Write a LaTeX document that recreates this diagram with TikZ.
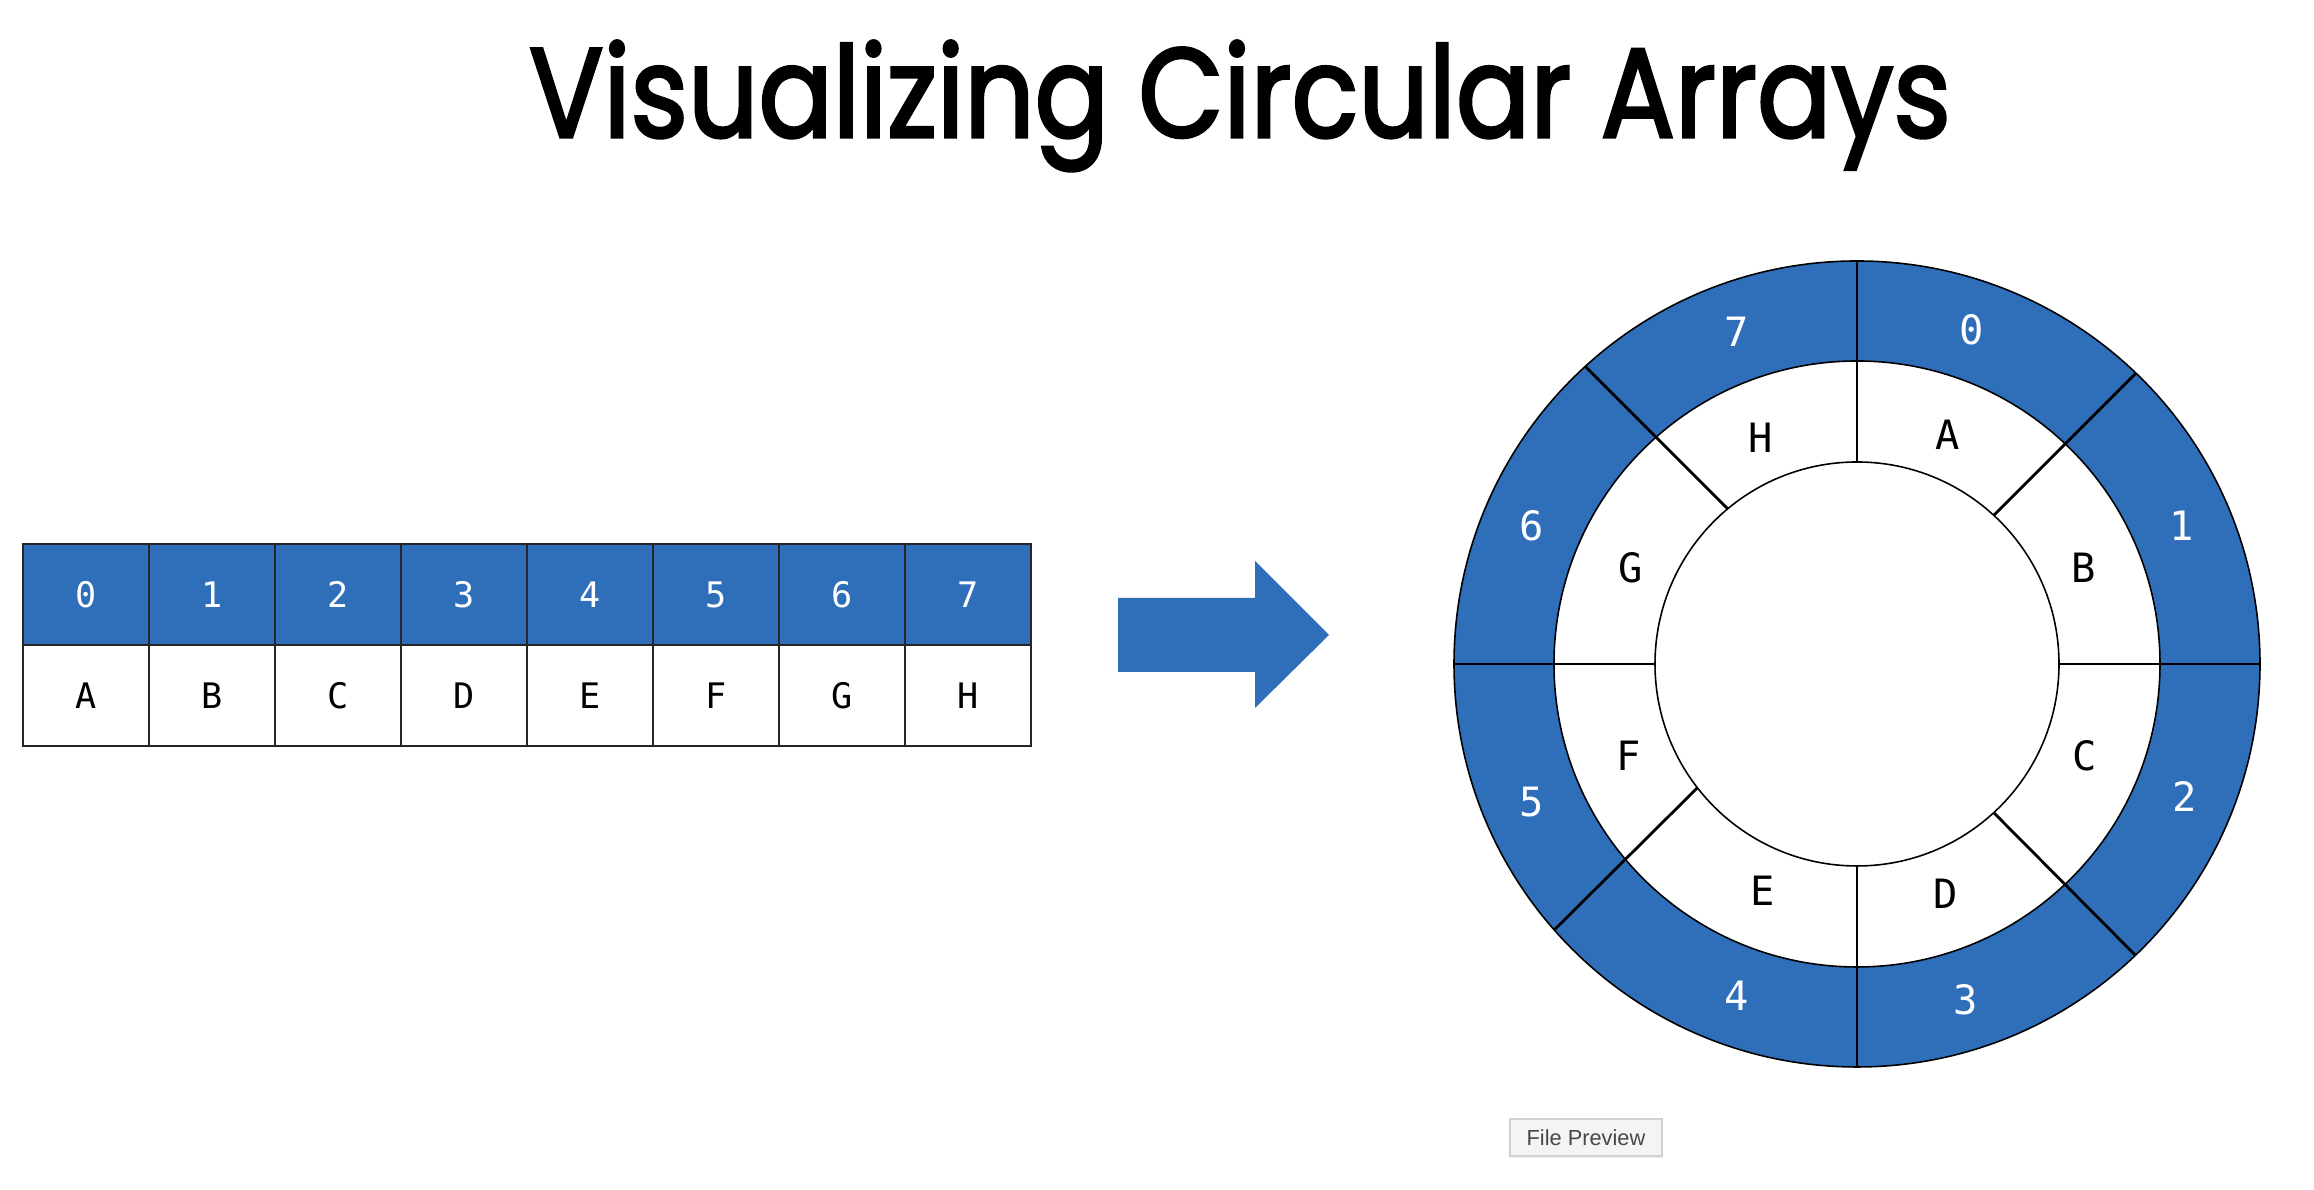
\documentclass[tikz,border=0pt]{standalone}
\usepackage{fontspec}
\setmonofont{DejaVu Sans Mono}
\newfontfamily\titlefont{Poppins}[FakeBold=2.5]
\newfontfamily\uifont{Liberation Sans}
\usetikzlibrary{shadows}

\definecolor{arrblue}{RGB}{47,111,186}
\definecolor{btngray}{RGB}{244,244,244}

\begin{document}
\begin{tikzpicture}[
        cell/.style={draw=black!85, line width=0.6pt, minimum width=1.26cm,
            minimum height=1.01cm, inner sep=0pt, outer sep=0pt,
            font=\ttfamily\fontsize{10}{12}\selectfont},
        idxcell/.style={cell, fill=arrblue, text=white},
        valcell/.style={cell, fill=white, text=black},
        ringtext/.style={font=\ttfamily\fontsize{11.5}{13}\selectfont}
    ]
        % Canvas
        \useasboundingbox (0,0) rectangle (23.14,11.90);
        \fill[white] (0,0) rectangle (23.14,11.90);

        % Title
        \node[anchor=base, font=\titlefont\fontsize{36}{40}\selectfont] (title)
            at (12.40,10.53) {\scalebox{0.87}[1]{Visualizing Circular Arrays}};

        % Linear array: index row on top, values below
        \foreach \i/\v in {0/A,1/B,2/C,3/D,4/E,5/F,6/G,7/H} {
            \node[idxcell, anchor=north west] (idx\i) at ({0.23+1.26*\i},6.46) {\i};
            \node[valcell, anchor=north] (val\i) at (idx\i.south) {\v};
        }

        % Block arrow
        \fill[arrblue] (11.18,5.18) -- (11.18,5.92) -- (12.55,5.92) -- (12.55,6.29)
            -- (13.29,5.55) -- (12.55,4.82) -- (12.55,5.18) -- cycle;

        % Circular array
        \coordinate (c) at (18.57,5.26);
        \fill[arrblue, even odd rule] (c) circle (4.03) (c) circle (3.03);
        \draw[line width=0.45pt] (c) circle (4.03) (c) circle (3.03) (c) circle (2.02);
        \foreach \a/\b in {0/0, 47.4/46.2, 90/90, 129.8/132.4, 180/180,
                           217.8/221.3, 270/270, -47.4/-46.3}
            \draw[line width=0.8pt, shift={(c)}] (\a:2.02) -- (\b:4.03);

        \foreach \i/\a in {0/71, 1/23, 2/-22, 3/-72, 4/-110, 5/203, 6/157, 7/110}
            \node[ringtext, text=white] (slot\i) at ([shift={(\a:3.53)}]c) {\i};
        \foreach \v/\a in {A/68.5, B/23, C/-22, D/-69, E/-112.5, F/202, G/157, H/113}
            \node[ringtext] (item\v) at ([shift={(\a:2.46)}]c) {\v};

        % Preview button
        \node[draw=black!18, fill=btngray, line width=0.3pt,
            drop shadow={shadow xshift=0pt, shadow yshift=-0.6pt, opacity=0.15},
            minimum width=1.52cm, minimum height=0.37cm, inner sep=0pt,
            text=black!72, font=\uifont\fontsize{6.2}{7}\selectfont] (preview)
            at (15.86,0.525) {File Preview};

    \end{tikzpicture}
\end{document}
